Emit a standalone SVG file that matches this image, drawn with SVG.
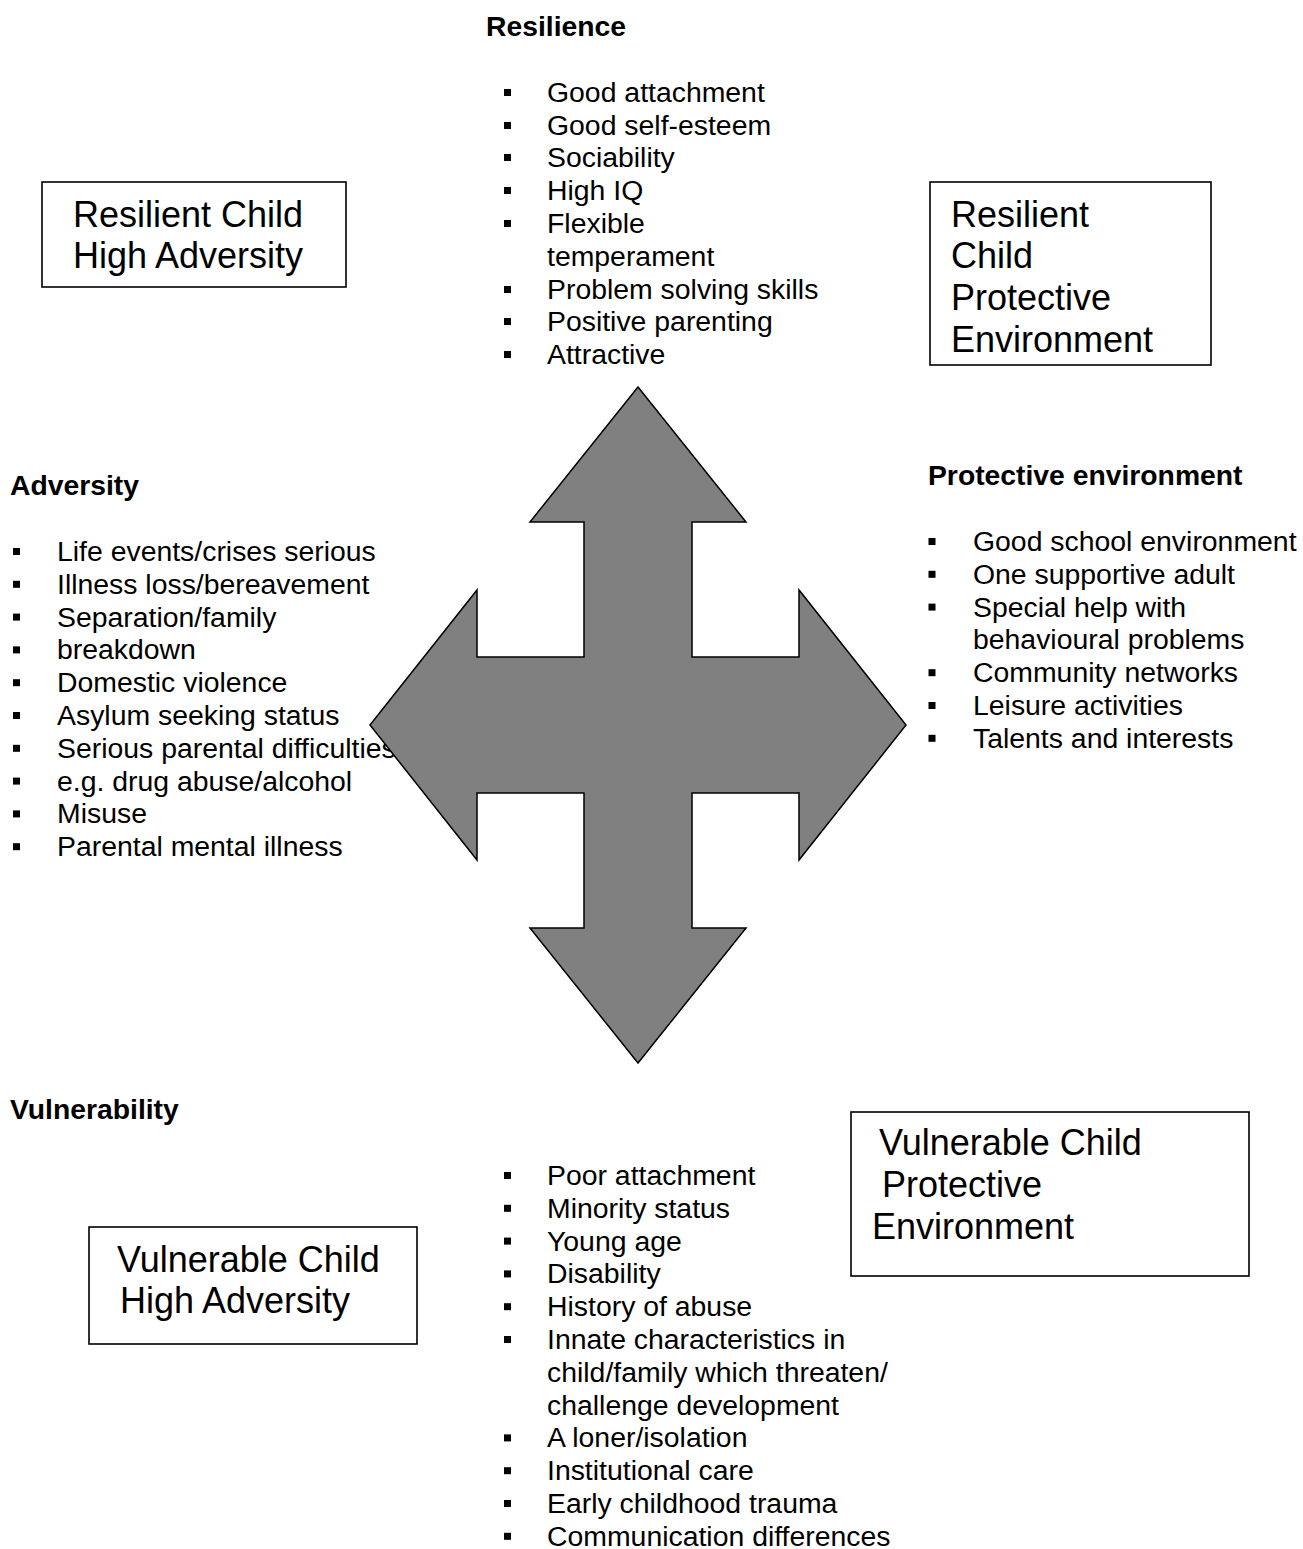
<svg xmlns="http://www.w3.org/2000/svg" width="1303" height="1549" viewBox="0 0 1303 1549">
<style>
  .bg { fill: #ffffff; }
  .h { font-family: "Liberation Sans", Arial, sans-serif; font-size: 28.3px; font-weight: bold; fill: #000; }
  .li { font-family: "Liberation Sans", Arial, sans-serif; font-size: 28.4px; fill: #000; }
  .bx { font-family: "Liberation Sans", Arial, sans-serif; font-size: 36px; fill: #000; }
  .box { fill: #ffffff; stroke: #000; stroke-width: 1.6; }
  .arrow { fill: #808080; stroke: #000; stroke-width: 1.5; stroke-linejoin: miter; }
</style>
<defs>
  <rect id="b" width="7" height="7" fill="#000"/>
</defs>
<rect class="bg" x="0" y="0" width="1303" height="1549"/>

<g id="resilience">
  <text class="h" x="486" y="36">Resilience</text>
  <use href="#b" x="504" y="89"/>
  <use href="#b" x="504" y="122"/>
  <use href="#b" x="504" y="154"/>
  <use href="#b" x="504" y="187"/>
  <use href="#b" x="504" y="220"/>
  <use href="#b" x="504" y="286"/>
  <use href="#b" x="504" y="318"/>
  <use href="#b" x="504" y="351"/>
  <text class="li" x="547" y="101.7">Good attachment</text>
  <text class="li" x="547" y="134.5">Good self-esteem</text>
  <text class="li" x="547" y="167.3">Sociability</text>
  <text class="li" x="547" y="200.1">High IQ</text>
  <text class="li" x="547" y="232.9">Flexible</text>
  <text class="li" x="547" y="265.7">temperament</text>
  <text class="li" x="547" y="298.5">Problem solving skills</text>
  <text class="li" x="547" y="331.3">Positive parenting</text>
  <text class="li" x="547" y="364.1">Attractive</text>
</g>

<g id="box-resilient-high-adversity">
  <rect class="box" x="42" y="182" width="304" height="105"/>
  <text class="bx" x="73" y="227">Resilient Child</text>
  <text class="bx" x="73" y="268">High Adversity</text>
</g>

<g id="box-resilient-protective">
  <rect class="box" x="930" y="182" width="281" height="183"/>
  <text class="bx" x="951" y="227">Resilient</text>
  <text class="bx" x="951" y="268">Child</text>
  <text class="bx" x="951" y="310">Protective</text>
  <text class="bx" x="951" y="352">Environment</text>
</g>

<g id="adversity">
  <text class="h" x="10" y="495">Adversity</text>
  <use href="#b" x="13" y="548"/>
  <use href="#b" x="13" y="580.8"/>
  <use href="#b" x="13" y="613.6"/>
  <use href="#b" x="13" y="646.4"/>
  <use href="#b" x="13" y="679.2"/>
  <use href="#b" x="13" y="712"/>
  <use href="#b" x="13" y="744.8"/>
  <use href="#b" x="13" y="777.6"/>
  <use href="#b" x="13" y="810.4"/>
  <use href="#b" x="13" y="843.2"/>
  <text class="li" x="57" y="561">Life events/crises serious</text>
  <text class="li" x="57" y="593.8">Illness loss/bereavement</text>
  <text class="li" x="57" y="626.6">Separation/family</text>
  <text class="li" x="57" y="659.4">breakdown</text>
  <text class="li" x="57" y="692.2">Domestic violence</text>
  <text class="li" x="57" y="725">Asylum seeking status</text>
  <text class="li" x="57" y="757.8">Serious parental difficulties</text>
  <text class="li" x="57" y="790.6">e.g. drug abuse/alcohol</text>
  <text class="li" x="57" y="823.4">Misuse</text>
  <text class="li" x="57" y="856.2">Parental mental illness</text>
</g>

<g id="protective-environment">
  <text class="h" x="928" y="485">Protective environment</text>
  <use href="#b" x="928.5" y="538"/>
  <use href="#b" x="928.5" y="570.8"/>
  <use href="#b" x="928.5" y="603.6"/>
  <use href="#b" x="928.5" y="669.2"/>
  <use href="#b" x="928.5" y="702"/>
  <use href="#b" x="928.5" y="734.8"/>
  <text class="li" x="973" y="551">Good school environment</text>
  <text class="li" x="973" y="583.8">One supportive adult</text>
  <text class="li" x="973" y="616.6">Special help with</text>
  <text class="li" x="973" y="649.4">behavioural problems</text>
  <text class="li" x="973" y="682.2">Community networks</text>
  <text class="li" x="973" y="715">Leisure activities</text>
  <text class="li" x="973" y="747.8">Talents and interests</text>
</g>

<g id="arrow">
  <polygon class="arrow" points="638,387 746,522 692,522 692,657 799,657 799,590 906,725 799,860 799,793 692,793 692,928 746,928 638,1063 530,928 584,928 584,793 477,793 477,860 370,725 477,590 477,657 584,657 584,522 530,522"/>
</g>

<g id="connectors"></g>

<g id="vulnerability">
  <text class="h" x="10" y="1119">Vulnerability</text>
  <use href="#b" x="504" y="1172"/>
  <use href="#b" x="504" y="1204.8"/>
  <use href="#b" x="504" y="1237.6"/>
  <use href="#b" x="504" y="1270.4"/>
  <use href="#b" x="504" y="1303.2"/>
  <use href="#b" x="504" y="1336"/>
  <use href="#b" x="504" y="1434.4"/>
  <use href="#b" x="504" y="1467.2"/>
  <use href="#b" x="504" y="1500"/>
  <use href="#b" x="504" y="1532.8"/>
  <text class="li" x="547" y="1185">Poor attachment</text>
  <text class="li" x="547" y="1217.8">Minority status</text>
  <text class="li" x="547" y="1250.6">Young age</text>
  <text class="li" x="547" y="1283.4">Disability</text>
  <text class="li" x="547" y="1316.2">History of abuse</text>
  <text class="li" x="547" y="1349">Innate characteristics in</text>
  <text class="li" x="547" y="1381.8">child/family which threaten/</text>
  <text class="li" x="547" y="1414.6">challenge development</text>
  <text class="li" x="547" y="1447.4">A loner/isolation</text>
  <text class="li" x="547" y="1480.2">Institutional care</text>
  <text class="li" x="547" y="1513">Early childhood trauma</text>
  <text class="li" x="547" y="1545.8">Communication differences</text>
</g>

<g id="box-vulnerable-protective">
  <rect class="box" x="851" y="1112" width="398" height="164"/>
  <text class="bx" x="879" y="1155">Vulnerable Child</text>
  <text class="bx" x="882" y="1197">Protective</text>
  <text class="bx" x="872" y="1239">Environment</text>
</g>

<g id="box-vulnerable-high-adversity">
  <rect class="box" x="89" y="1227" width="328" height="117"/>
  <text class="bx" x="117" y="1272">Vulnerable Child</text>
  <text class="bx" x="120" y="1313">High Adversity</text>
</g>
</svg>
